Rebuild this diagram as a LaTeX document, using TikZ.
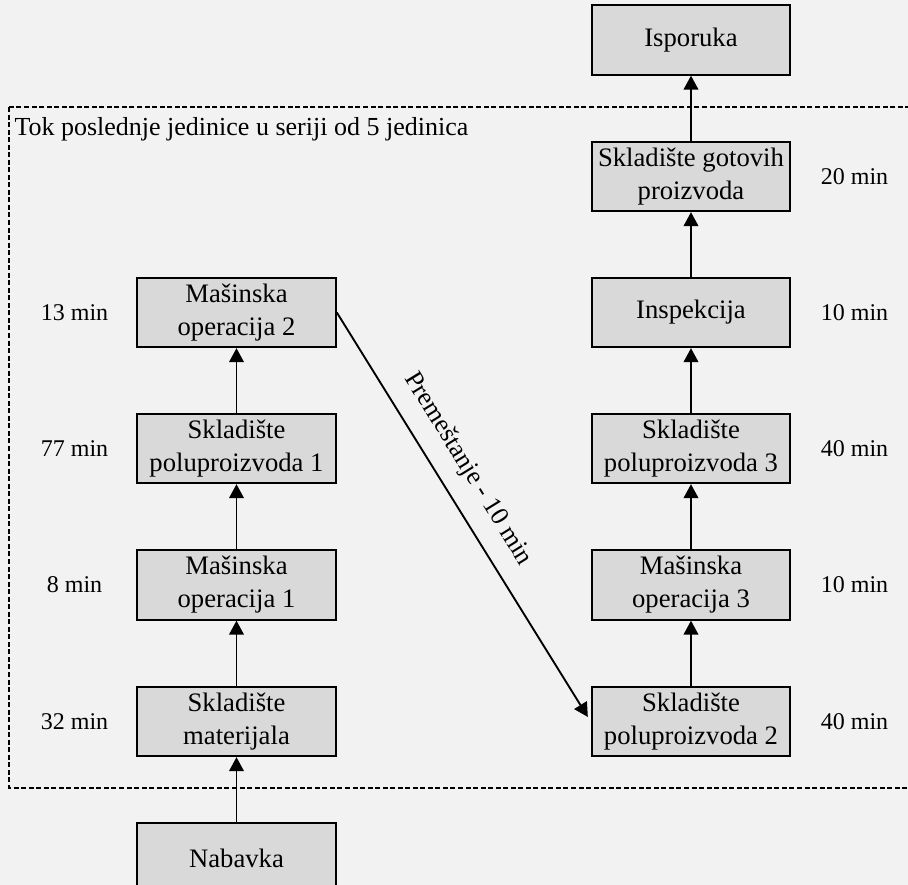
\documentclass[tikz,border=0pt]{standalone}
\usepackage{fontspec}
\setmainfont{Liberation Serif}
\usetikzlibrary{arrows.meta}

\definecolor{pozadina}{RGB}{242,242,242}
\definecolor{kutija}{RGB}{217,217,217}
\newcommand{\tekst}{\fontsize{20pt}{24.75pt}\selectfont}
\newcommand{\naslovtekst}{\fontsize{19.5pt}{24pt}\selectfont}
\newcommand{\vremetekst}{\fontsize{18pt}{22pt}\selectfont}

\tikzset{every picture/.style={line width=0.75pt}}
\tikzset{
  faza/.style={draw, fill=kutija, line width=1.5pt, minimum width=149pt, minimum height=52pt,
    inner sep=0pt, align=center, font=\tekst},
  vreme/.style={inner sep=0pt, font=\vremetekst},
  tok/.style={line width=1.4pt, -{Triangle[length=10.5pt,width=11pt]}},
  okvir/.style={line width=1.5pt, dash pattern=on 3.75pt off 1.9pt},
}

\begin{document}
\begin{tikzpicture}[x=0.75pt,y=0.75pt,yscale=-1,xscale=1]
		\path[use as bounding box] (0,0) rectangle (908,885);
		\fill[pozadina] (0,0) rectangle (908,885);
		\clip (0,0) rectangle (908,885);

		%Shape: Rectangle [dashed frame]
		\draw[okvir] (9,107) rectangle (920,788);
		% Text Node
		\node[inner sep=0pt, font=\naslovtekst, anchor=base west] (naslov) at (14,135) {Tok poslednje jedinice u seriji od 5 jedinica};

		% left column
		\node[faza] (mo2) at (236.5,312.5) {Mašinska\\operacija 2};
		\node[faza] (sp1) at (236.5,448.5) {Skladište\\poluproizvoda 1};
		\node[faza] (mo1) at (236.5,585) {Mašinska\\operacija 1};
		\node[faza] (smat) at (236.5,721.5) {Skladište\\materijala};
		\node[faza] (nab) at (236.5,858) {Nabavka};

		% right column
		\node[faza] (isp) at (691,40) {Isporuka};
		\node[faza] (sgp) at (691,176.5) {Skladište gotovih\\proizvoda};
		\node[faza] (insp) at (691,312.5) {Inspekcija};
		\node[faza] (sp3) at (691,448.5) {Skladište\\poluproizvoda 3};
		\node[faza] (mo3) at (691,585) {Mašinska\\operacija 3};
		\node[faza] (sp2) at (691,721.5) {Skladište\\poluproizvoda 2};

		% times
		\node[vreme] (t13) at (74.5,312.5) {13 min};
		\node[vreme] (t77) at (74.5,448.5) {77 min};
		\node[vreme] (t8) at (74.5,585) {8 min};
		\node[vreme] (t32) at (74.5,721.5) {32 min};
		\node[vreme] (t20) at (854.5,176.5) {20 min};
		\node[vreme] (t10a) at (854.5,312.5) {10 min};
		\node[vreme] (t40a) at (854.5,448.5) {40 min};
		\node[vreme] (t10b) at (854.5,585) {10 min};
		\node[vreme] (t40b) at (854.5,721.5) {40 min};

		%Straight Lines
		\draw[tok] (nab) -- (smat);
		\draw[tok] (smat) -- (mo1);
		\draw[tok] (mo1) -- (sp1);
		\draw[tok] (sp1) -- (mo2);
		\draw[tok] (sp2) -- (mo3);
		\draw[tok] (mo3) -- (sp3);
		\draw[tok] (sp3) -- (insp);
		\draw[tok] (insp) -- (sgp);
		\draw[tok] (sgp) -- (isp);
		\draw[tok, shorten >=4pt] (mo2.east) -- node[pos=0.42, rotate=-58.3, anchor=south, inner xsep=0pt, inner ysep=12pt, font=\naslovtekst] (prem) {Premeštanje - 10 min} (sp2.west);

\end{tikzpicture}
\end{document}
